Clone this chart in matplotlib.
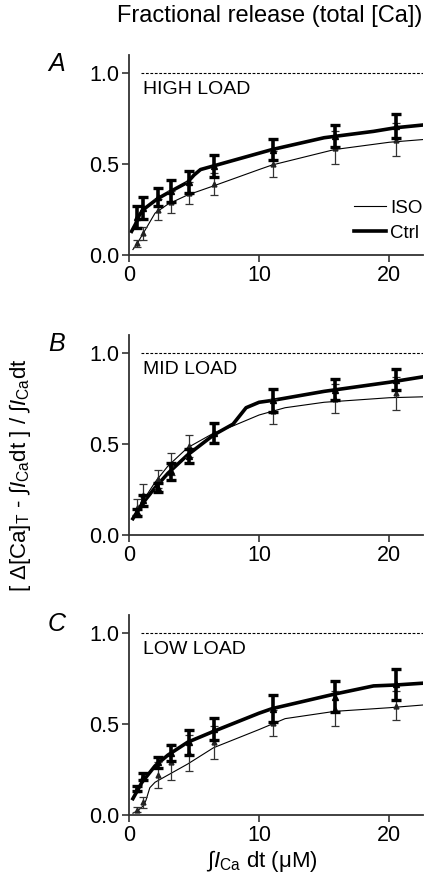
import numpy as np
import matplotlib
matplotlib.use("Agg")
import matplotlib.pyplot as plt

plt.rcParams['font.family'] = ['Liberation Sans', 'DejaVu Sans']
plt.rcParams['mathtext.fontset'] = 'custom'
plt.rcParams['mathtext.rm'] = 'Liberation Sans'
plt.rcParams['mathtext.it'] = 'Liberation Sans:italic'

# integrated Ca current at which release was measured (uM)
x_pts = [0.6, 1.1, 2.2, 3.2, 4.6, 6.5, 11.1, 15.8, 20.5]

# HIGH LOAD
high_ctrl_mean = [0.21, 0.26, 0.32, 0.35, 0.40, 0.49, 0.58, 0.655, 0.71]
high_ctrl_err = [0.06, 0.06, 0.05, 0.06, 0.06, 0.06, 0.06, 0.06, 0.065]
high_iso_mean = [0.065, 0.12, 0.25, 0.29, 0.34, 0.39, 0.50, 0.59, 0.635]
high_iso_err = [0.02, 0.035, 0.06, 0.06, 0.06, 0.06, 0.07, 0.09, 0.09]
high_ctrl_fit_x = [0.2, 0.5, 0.8, 1.1, 2.2, 3.2, 4.5, 5.0, 5.5, 6.5, 8.0, 10.0, 11.0, 15.0, 18.8, 20.5, 22.6]
high_ctrl_fit_y = [0.13, 0.17, 0.22, 0.25, 0.31, 0.35, 0.40, 0.44, 0.47, 0.49, 0.52, 0.56, 0.58, 0.645, 0.68, 0.70, 0.715]
high_iso_fit_x = [0.3, 0.6, 1.1, 2.0, 3.0, 4.5, 6.5, 10.0, 11.0, 15.8, 20.0, 22.6]
high_iso_fit_y = [0.03, 0.06, 0.12, 0.23, 0.28, 0.33, 0.38, 0.47, 0.495, 0.58, 0.62, 0.635]

# MID LOAD
mid_ctrl_mean = [0.125, 0.19, 0.26, 0.35, 0.435, 0.56, 0.74, 0.80, 0.855]
mid_ctrl_err = [0.02, 0.03, 0.025, 0.045, 0.04, 0.055, 0.065, 0.06, 0.06]
mid_iso_mean = [0.15, 0.22, 0.31, 0.39, 0.49, 0.56, 0.68, 0.75, 0.78]
mid_iso_err = [0.05, 0.06, 0.05, 0.06, 0.06, 0.05, 0.07, 0.08, 0.09]
mid_ctrl_fit_x = [0.3, 1.0, 2.0, 3.0, 4.5, 6.5, 8.0, 9.0, 10.0, 11.0, 15.0, 20.0, 22.6]
mid_ctrl_fit_y = [0.09, 0.17, 0.26, 0.34, 0.44, 0.55, 0.61, 0.70, 0.73, 0.74, 0.79, 0.84, 0.87]
mid_iso_fit_x = [0.3, 1.0, 2.0, 3.0, 4.5, 6.5, 8.0, 10.0, 12.0, 15.0, 20.0, 22.6]
mid_iso_fit_y = [0.09, 0.18, 0.29, 0.38, 0.48, 0.56, 0.60, 0.66, 0.70, 0.73, 0.755, 0.76]

# LOW LOAD
low_ctrl_mean = [0.145, 0.21, 0.29, 0.34, 0.40, 0.475, 0.585, 0.65, 0.72]
low_ctrl_err = [0.015, 0.02, 0.03, 0.045, 0.07, 0.06, 0.075, 0.085, 0.085]
low_iso_mean = [0.03, 0.07, 0.22, 0.29, 0.34, 0.40, 0.505, 0.585, 0.60]
low_iso_err = [0.015, 0.03, 0.07, 0.10, 0.10, 0.09, 0.07, 0.095, 0.08]
low_ctrl_fit_x = [0.3, 1.0, 2.0, 3.0, 4.5, 6.5, 10.0, 11.0, 15.8, 18.8, 20.5, 22.6]
low_ctrl_fit_y = [0.09, 0.18, 0.27, 0.33, 0.40, 0.46, 0.56, 0.585, 0.665, 0.71, 0.715, 0.725]
low_iso_fit_x = [0.3, 0.6, 1.1, 1.3, 1.6, 2.0, 3.0, 4.5, 6.5, 10.0, 12.0, 15.8, 20.0, 22.6]
low_iso_fit_y = [0.01, 0.02, 0.05, 0.08, 0.15, 0.18, 0.22, 0.28, 0.37, 0.47, 0.53, 0.57, 0.59, 0.605]

panels = [
    ("A", "HIGH LOAD", high_ctrl_mean, high_ctrl_err, high_iso_mean, high_iso_err,
     high_ctrl_fit_x, high_ctrl_fit_y, high_iso_fit_x, high_iso_fit_y),
    ("B", "MID LOAD", mid_ctrl_mean, mid_ctrl_err, mid_iso_mean, mid_iso_err,
     mid_ctrl_fit_x, mid_ctrl_fit_y, mid_iso_fit_x, mid_iso_fit_y),
    ("C", "LOW LOAD", low_ctrl_mean, low_ctrl_err, low_iso_mean, low_iso_err,
     low_ctrl_fit_x, low_ctrl_fit_y, low_iso_fit_x, low_iso_fit_y),
]

fig = plt.figure(figsize=(4.3, 8.83), dpi=100)
W, H = 430, 883
ax_left, ax_right = 129, 423
ax_tops = [55, 335, 615]
ax_h = 200

spine_col = '#333333'

for i, (letter, load, c_m, c_e, i_m, i_e, cfx, cfy, ifx, ify) in enumerate(panels):
    top = ax_tops[i]
    ax = fig.add_axes([ax_left / W, 1 - (top + ax_h) / H, (ax_right - ax_left) / W, ax_h / H])

    ax.axhline(1.0, xmin=0.9 / 22.6, xmax=1.0, color='black', lw=0.8, ls=(0, (2.5, 1.5)))

    # fitted curves
    ax.plot(ifx, ify, color='black', lw=0.8, label='ISO')
    ax.plot(cfx, cfy, color='black', lw=2.6, label='Ctrl')

    # data points
    ax.errorbar(x_pts, i_m, yerr=i_e, fmt='^', ms=3.5, color='#222222', ecolor='#333333',
                elinewidth=0.9, capsize=3, capthick=0.9, zorder=4)
    ax.errorbar(x_pts, c_m, yerr=c_e, fmt='^', ms=4.5, color='black', ecolor='black',
                elinewidth=2.6, capsize=3.5, capthick=2.4, zorder=5)

    ax.text(1.1, 0.91, load, fontsize=14, va='center', ha='left')
    fig.text(57 / W, 1 - (top + 9) / H, letter, fontsize=18, style='italic', ha='center', va='center')

    ax.set_xlim(0, 22.6)
    ax.set_ylim(0, 1.1)
    ax.set_xticks([0, 10, 20])
    ax.set_yticks([0.0, 0.5, 1.0])
    ax.set_yticklabels(['0.0', '0.5', '1.0'])
    ax.tick_params(direction='out', length=5, width=1.2, labelsize=15.5, colors=spine_col,
                   labelcolor='black', pad=2)
    for s in ['top', 'right']:
        ax.spines[s].set_visible(False)
    for s in ['left', 'bottom']:
        ax.spines[s].set_linewidth(1.3)
        ax.spines[s].set_color(spine_col)

    if i == 0:
        ax.legend(loc='lower right', bbox_to_anchor=(1.03, 0.02), frameon=False, fontsize=13.5,
                  handlelength=1.7, handletextpad=0.2, labelspacing=0.4, borderaxespad=0.1)

fig.text(262 / W, 1 - 861 / H, r'∫$\mathit{I}_{\mathrm{Ca}}$ dt (μM)', fontsize=16, ha='center', va='center')
fig.text(270 / W, 1 - 16 / H, 'Fractional release (total [Ca])', fontsize=17, ha='center', va='center')
fig.text(20 / W, 1 - 475 / H, r'[ Δ[Ca]$_{\mathrm{T}}$ - ∫$\mathit{I}_{\mathrm{Ca}}$dt ] / ∫$\mathit{I}_{\mathrm{Ca}}$dt',
         fontsize=16, rotation=90, ha='center', va='center')

fig.savefig('out.png', dpi=100)
